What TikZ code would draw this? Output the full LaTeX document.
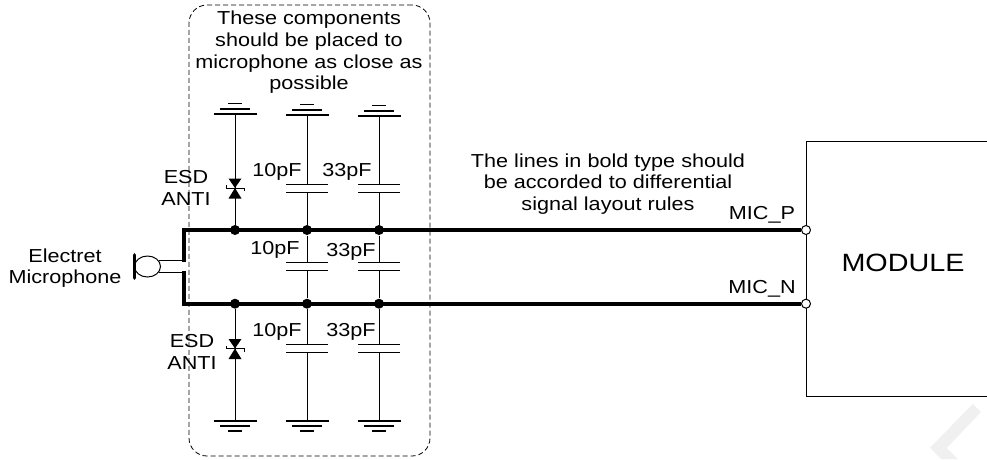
\documentclass[tikz,border=0pt]{standalone}
\usepackage{fontspec}
\setmainfont{Liberation Sans}[FakeStretch=1.15]
\usetikzlibrary{positioning,shapes.geometric}

\begin{document}
\begin{tikzpicture}[
  x=1pt, y=-1pt, line width=1pt,
  lbl/.style={align=center, inner sep=0pt, font=\fontsize{18.8}{21.7}\selectfont},
  bus/.style={line width=3.8pt, line join=miter},
  dot/.style={circle, fill=black, inner sep=0pt, minimum size=10pt},
  pin/.style={circle, draw, fill=white, inner sep=0pt, minimum size=9pt},
  capnode/.style={inner sep=0pt, outer sep=0pt, minimum width=42pt, minimum height=8pt,
    append after command={
      (\tikzlastnode.north west) edge[line width=0.8pt] (\tikzlastnode.north east)
      (\tikzlastnode.south west) edge[line width=0.8pt] (\tikzlastnode.south east)}},
  zone/.style={draw, densely dashed, dash pattern=on 5pt off 3pt, line width=0.8pt, rounded corners=18pt,
    minimum width=241pt, minimum height=451pt, inner sep=0pt},
  gndup/.pic={
    \draw[line width=1.6pt] (-21.5,0) -- (21.5,0);
    \draw[line width=1.6pt] (-15,-5) -- (15,-5);
    \draw[line width=1.6pt] (-7,-10.5) -- (7,-10.5);
  },
  gnddown/.pic={
    \draw[line width=1.6pt] (-21.5,0) -- (21.5,0);
    \draw[line width=1.6pt] (-15,5) -- (15,5);
    \draw[line width=1.6pt] (-7,10.5) -- (7,10.5);
  },
  tvs/.pic={
    \fill (-6.5,-9.5) -- (6.5,-9.5) -- (0,0) -- cycle;
    \fill (-6.5,10.5) -- (6.5,10.5) -- (0,0) -- cycle;
    \draw (-9,-3) -- (-9,0) -- (9,0) -- (9,3);
  }
]
\useasboundingbox (0,0) rectangle (987,459);

\fill[black!6] (972.7,404) -- (981,412) -- (946.7,448) -- (958,459) -- (941,459) -- (930,447.7) -- cycle;

\node[zone] (zone) at (309.5,230.5) {};

\coordinate (gt1) at (235,114);
\coordinate (gt2) at (307,115);
\coordinate (gt3) at (379,116);
\coordinate (gb1) at (235,420.7);
\coordinate (gb2) at (307,420.7);
\coordinate (gb3) at (379,420.7);
\pic at (gt1) {gndup};
\pic at (gt2) {gndup};
\pic at (gt3) {gndup};
\pic at (gb1) {gnddown};
\pic at (gb2) {gnddown};
\pic at (gb3) {gnddown};

\node[dot] (jp1) at (235,230) {};
\node[dot] (jp2) at (307,230) {};
\node[dot] (jp3) at (379,230) {};
\node[dot] (jn1) at (235,303.7) {};
\node[dot] (jn2) at (307,303.7) {};
\node[dot] (jn3) at (379,303.7) {};

\coordinate (dt) at (235,188);
\coordinate (db) at (235,348.5);
\node[capnode] (ct2) at (307,188.7) {};
\node[capnode] (ct3) at (379,188.7) {};
\node[capnode] (cm2) at (307,266) {};
\node[capnode] (cm3) at (379,266) {};
\node[capnode] (cb2) at (307,348.3) {};
\node[capnode] (cb3) at (379,348.3) {};

\draw (gt1) -- (jp1);
\draw (gb1) -- (jn1);
\pic at (dt) {tvs};
\pic at (db) {tvs};
\draw (gt2) -- (ct2.north);
\draw (ct2.south) -- (jp2);
\draw (gt3) -- (ct3.north);
\draw (ct3.south) -- (jp3);
\draw (jp2) -- (cm2.north);
\draw (cm2.south) -- (jn2);
\draw (jp3) -- (cm3.north);
\draw (cm3.south) -- (jn3);
\draw (jn2) -- (cb2.north);
\draw (cb2.south) -- (gb2);
\draw (jn3) -- (cb3.north);
\draw (cb3.south) -- (gb3);

\node[ellipse, draw, inner sep=0pt, minimum width=26pt, minimum height=21pt] (mic) at (147.5,266.5) {};
\coordinate (micbt) at (134.5,255);
\coordinate (micbb) at (134.5,278);
\draw[line width=3.8pt, line cap=round] (micbt) -- (micbb);

\coordinate (cornerp) at (184,230);
\coordinate (cornern) at (184,303.7);
\coordinate (busptop) at (184,262);
\coordinate (busntop) at (184,271);
\draw (mic.30) -| (busptop);
\draw (mic.-29) -| (busntop);

\coordinate (modtl) at (806,141);
\coordinate (modtr) at (987.5,141);
\coordinate (modbl) at (806,396);
\coordinate (modbr) at (987.5,396);
\draw (modtr) -- (modtl) -- (modbl) -- (modbr);

\node[pin] (pinp) at (806,230) {};
\node[pin] (pinn) at (806,303.7) {};
\draw[bus] (pinp) -- (cornerp) -- (busptop);
\draw[bus] (pinn) -- (cornern) -- (busntop);

\node[lbl] (note) at (309,52.5) {These components\\should be placed to\\microphone as close as\\possible};
\node[lbl] (rules) at (608,184) {The lines in bold type should\\be accorded to differential\\signal layout rules};
\node[lbl] (micname) at (65,268) {Electret\\Microphone};
\node[lbl] (esdt) at (186,188) {ESD\\ANTI};
\node[lbl] (esdb) at (192,352) {ESD\\ANTI};
\node[lbl] (lt2) at (277,172) {10pF};
\node[lbl] (lt3) at (347,172) {33pF};
\node[lbl] (lm2) at (275,250) {10pF};
\node[lbl] (lm3) at (351,252) {33pF};
\node[lbl] (lb2) at (277,332) {10pF};
\node[lbl] (lb3) at (351,332) {33pF};
\node[lbl] (micp) at (762,215) {MIC\_P};
\node[lbl] (micn) at (762,289) {MIC\_N};
\node[lbl, font=\fontsize{25}{28}\selectfont] (module) at (903,263) {MODULE};

\end{tikzpicture}
\end{document}
